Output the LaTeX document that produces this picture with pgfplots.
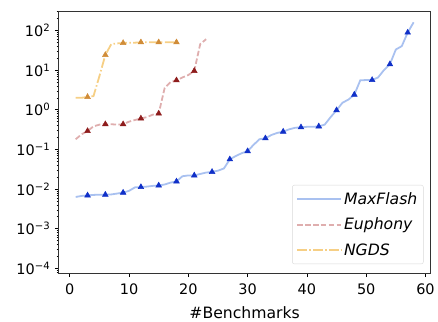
\documentclass[border=0pt]{standalone}
\usepackage{fontspec}
\setmainfont{DejaVu Sans}
\setsansfont{DejaVu Sans}
\usepackage{pgfplots}
\pgfplotsset{compat=1.18}
\definecolor{mfline}{HTML}{A9C1F0}
\definecolor{mfmark}{HTML}{1030C8}
\definecolor{euline}{HTML}{DFAEAE}
\definecolor{eumark}{HTML}{8E1C1C}
\definecolor{ngline}{HTML}{F6CF85}
\definecolor{ngmark}{HTML}{D08C38}
\begin{document}
\begin{tikzpicture}[font=\fontsize{14.5}{17}\selectfont]
\begin{axis}[
  name=ax,
  scale only axis,
  width=373pt, height=263pt,
  xmin=-1.85, xmax=60.85,
  ymode=log,
  ymin=7.6e-5, ymax=309,
  xtick={0,10,20,30,40,50,60},
  ytick={1e-4,1e-3,1e-2,1e-1,1,10,100},
  minor ytick={8e-5,9e-5,
    2e-4,3e-4,4e-4,5e-4,6e-4,7e-4,8e-4,9e-4,
    2e-3,3e-3,4e-3,5e-3,6e-3,7e-3,8e-3,9e-3,
    2e-2,3e-2,4e-2,5e-2,6e-2,7e-2,8e-2,9e-2,
    0.2,0.3,0.4,0.5,0.6,0.7,0.8,0.9,
    2,3,4,5,6,7,8,9,
    20,30,40,50,60,70,80,90,
    200,300},
  yticklabels={10\textsuperscript{−4},10\textsuperscript{−3},10\textsuperscript{−2},10\textsuperscript{−1},10\textsuperscript{0},10\textsuperscript{1},10\textsuperscript{2}},
  /pgf/number format/assume math mode=true,
  tick align=outside,
  xtick pos=left, ytick pos=left,
  major tick length=4pt, minor tick length=2.3pt,
  tick style={black, line width=0.7pt},
  minor tick style={black, line width=0.5pt},
  axis line style={black!80, line width=0.8pt},
  xticklabel style={yshift=-3pt},
  yticklabel style={xshift=-1pt},
  xlabel={\#Benchmarks},
  xlabel style={font=\fontsize{15.7}{18}\selectfont, yshift=-5pt},
  legend style={at={(1,0)}, anchor=south east, xshift=-7pt, yshift=9pt,
    draw=black!15, rounded corners=2pt, font=\itshape\fontsize{15.7}{18}\selectfont,
    row sep=8.5pt, inner xsep=4pt, inner ysep=5pt},
  legend cell align=left,
  legend image code/.code={\draw[#1] (0pt,0pt) -- (34pt,0pt); \path (0pt,0pt) -- (44pt,0pt);},
]
\addplot[mfline, line width=1.8pt, mark=triangle*, mark repeat=3, mark phase=3,
  mark size=3.3pt, mark options={solid, fill=mfmark, draw=mfmark, line width=0.5pt}] table {
x y
1 0.0063
2 0.0067
3 0.0069
4 0.0071
5 0.0072
6 0.0072
7 0.0073
8 0.0077
9 0.0081
10 0.009
11 0.011
12 0.0112
13 0.0115
14 0.012
15 0.0123
16 0.013
17 0.0145
18 0.0155
19 0.021
20 0.022
21 0.022
22 0.024
23 0.026
24 0.027
25 0.029
26 0.033
27 0.056
28 0.068
29 0.08
30 0.09
31 0.13
32 0.18
33 0.19
34 0.23
35 0.26
36 0.28
37 0.32
38 0.35
39 0.36
40 0.37
41 0.37
42 0.38
43 0.42
44 0.65
45 0.97
46 1.5
47 1.8
48 2.4
49 5.5
50 5.6
51 5.6
52 6.5
53 10
54 14
55 33
56 40
57 88
58 160
};
\addlegendentry{MaxFlash}
\addplot[euline, line width=1.8pt, dash pattern=on 5.5pt off 2.4pt, mark=triangle*, mark repeat=3, mark phase=3,
  mark size=3.3pt, mark options={solid, fill=eumark, draw=eumark, line width=0.5pt}] table {
x y
1 0.18
2 0.24
3 0.29
4 0.38
5 0.42
6 0.43
7 0.43
8 0.42
9 0.43
10 0.5
11 0.55
12 0.6
13 0.65
14 0.75
15 0.8
16 3.5
17 5
18 5.5
19 6.5
20 7.5
21 9.5
22 45
23 60
};
\addlegendentry{Euphony}
\addplot[ngline, line width=1.8pt, dash pattern=on 9.6pt off 2.4pt on 1.5pt off 2.4pt, mark=triangle*, mark repeat=3, mark phase=3,
  mark size=3.3pt, mark options={solid, fill=ngmark, draw=ngmark, line width=0.5pt}] table {
x y
1 2.0
2 2.0
3 2.1
4 2.2
5 7
6 24
7 45
8 47
9 48
10 49
11 49
12 50
13 50
14 50
15 50
16 50
17 50
18 50
};
\addlegendentry{NGDS}
\end{axis}
\path (ax.south west) ++(-59pt,-48pt) coordinate (bl);
\path (ax.north east) ++(6pt,11pt) coordinate (tr);
\path (bl) rectangle (tr);
\end{tikzpicture}
\end{document}
